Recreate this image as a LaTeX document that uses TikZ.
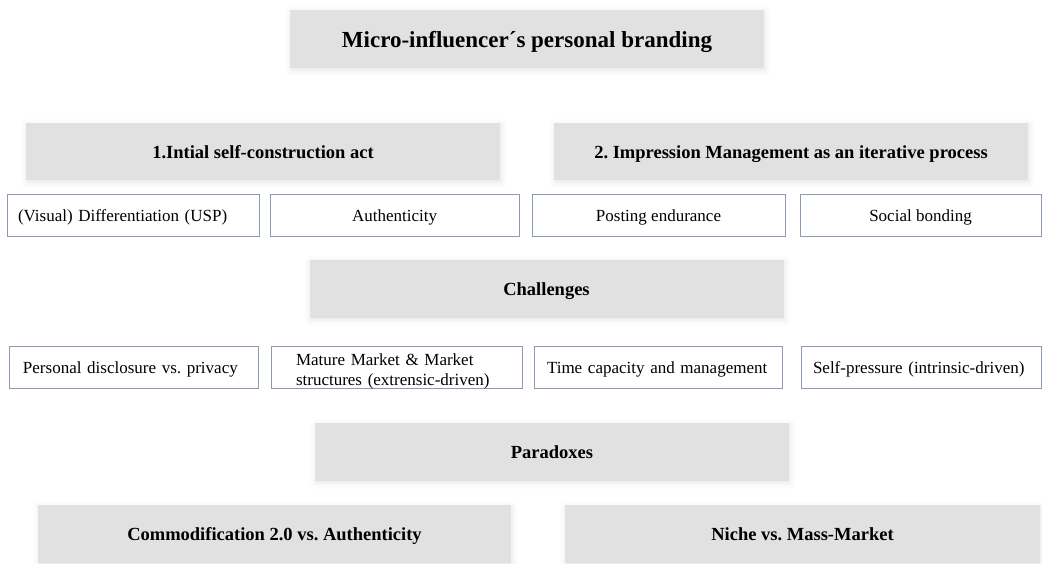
\documentclass[tikz,border=0pt]{standalone}
\usepackage{fontspec}
\setmainfont{Liberation Serif}
\usetikzlibrary{shadows.blur}
\frenchspacing

\definecolor{headgrey}{RGB}{225,225,225}
\definecolor{itemframe}{RGB}{140,155,178}

\tikzset{
  headbox/.style={fill=headgrey, minimum width=474pt, minimum height=58pt,
    text height=17pt, text depth=4pt,
    font=\bfseries\fontsize{18.5}{22}\selectfont,
    blur shadow={shadow xshift=1pt, shadow yshift=-2pt, shadow opacity=10, shadow blur radius=6pt}},
  framebox/.style={draw=itemframe, line width=0.9pt, minimum height=42pt, inner sep=0pt,
    font=\fontsize{17}{20}\selectfont},
  itembox/.style={framebox, text height=16pt, text depth=4pt},
  leftitem/.style={itembox, align=left, text width=#1}
}

\begin{document}
\begin{tikzpicture}[x=1pt, y=-1pt]
\useasboundingbox (0,0) rectangle (1042,563);

% Title
\node (title) at (527,39) [headbox, text height=21pt, text depth=5pt,
  font=\bfseries\fontsize{23}{27}\selectfont] {Micro-influencer´s personal branding};

% Sections (top)
\node (sec1) at (263,151.5) [headbox, minimum height=57pt] {1.Intial self-construction act};
\node (sec2) at (791,151.5) [headbox, minimum height=57pt] {2. Impression Management as an iterative process};

% Items (first row)
\node (usp)  at (133,215)   [leftitem=230pt, minimum width=252pt] {(Visual) Differentiation (USP)};
\node (auth) at (394.5,215) [itembox, minimum width=249pt] {Authenticity};
\node (post) at (658.5,215) [itembox, minimum width=253pt] {Posting endurance};
\node (bond) at (920.5,215) [itembox, minimum width=241pt] {Social bonding};

% Challenges
\node (chal) at (546.5,289) [headbox] {Challenges};

% Items (second row)
\node (disc)   at (133.5,367) [leftitem=221pt, minimum width=249pt] {Personal disclosure vs. privacy};
\node (market) at (396.5,367) [framebox, minimum width=251pt] {};
\node (mtext)  at ([yshift=-4pt]market.center) [framebox, draw=none, align=left, text width=201pt] {Mature Market \& Market\\structures (extrensic-driven)};
\node (time)   at (658,367)   [leftitem=222pt, minimum width=248pt] {Time capacity and management};
\node (press)  at (921,367)   [leftitem=216pt, minimum width=240pt] {Self-pressure (intrinsic-driven)};

% Paradoxes
\node (para) at (552,452) [headbox] {Paradoxes};

% Paradox pairs (bottom)
\node (comm)  at (274.5,534) [headbox, minimum width=473pt] {Commodification 2.0 vs. Authenticity};
\node (niche) at (802.5,534) [headbox, minimum width=475pt] {Niche vs. Mass-Market};

\end{tikzpicture}
\end{document}
